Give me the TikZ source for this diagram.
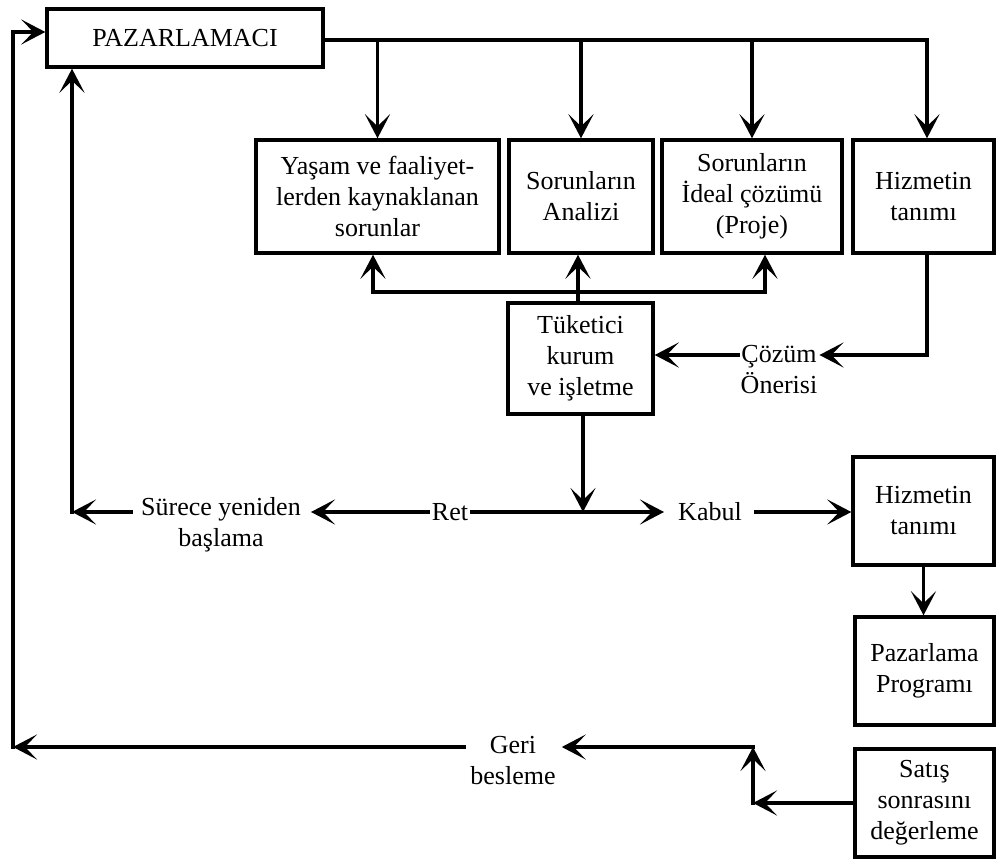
\documentclass[tikz,border=0pt]{standalone}
\usepackage{fontspec}
\setmainfont{Liberation Serif}
\usetikzlibrary{arrows.meta}
\tikzset{
  txt/.style={font=\fontsize{26}{31}\selectfont},
  flowbox/.style={txt, draw, line width=3.4pt, align=center, inner sep=0pt},
  flowlbl/.style={txt, align=center, inner ysep=2pt},
  cline/.style={line width=3.2pt, line cap=rect, line join=miter},
  carrow/.style={line width=3.2pt, line cap=rect, line join=miter,
    -{Stealth[length=24pt,width=25pt,inset=12pt]}}
}
\begin{document}
\begin{tikzpicture}[x=1pt,y=-1pt]
\useasboundingbox (0,0) rectangle (996,861);

% boxes
\node[flowbox, minimum width=276pt, minimum height=58pt] (paz) at (185,38) {PAZARLAMACI};
\node[flowbox, minimum width=243pt, minimum height=113pt] (b1) at (377.5,196.5) {Yaşam ve faaliyet-\\lerden kaynaklanan\\sorunlar};
\node[flowbox, minimum width=144pt, minimum height=113pt] (b2) at (581,196.5) {Sorunların\\Analizi};
\node[flowbox, minimum width=180pt, minimum height=113pt] (b3) at (752,196.5) {Sorunların\\İdeal çözümü\\(Proje)};
\node[flowbox, minimum width=141pt, minimum height=113pt] (b4) at (923.5,196.5) {Hizmetin\\tanımı};
\node[flowbox, minimum width=145pt, minimum height=111pt] (tk) at (580.5,358.5) {Tüketici\\kurum\\ve işletme};
\node[flowbox, minimum width=141pt, minimum height=108pt] (h2) at (923.5,511) {Hizmetin\\tanımı};
\node[flowbox, minimum width=139pt, minimum height=108pt] (pp) at (924.5,671) {Pazarlama\\Programı};
\node[flowbox, minimum width=139pt, minimum height=108pt] (sd) at (924.5,803) {Satış\\sonrasını\\değerleme};

% labels
\node[flowlbl, inner xsep=2pt] (coz) at (779,370) {Çözüm\\Önerisi};
\node[flowlbl, inner xsep=3pt] (ret) at (450,512) {Ret};
\node[flowlbl, inner xsep=10pt] (sur) at (221,525) {Sürece yeniden\\başlama};
\node[flowlbl, inner xsep=14pt] (kab) at (710,512) {Kabul};
\node[flowlbl, inner xsep=6pt] (geri) at (513,761) {Geri\\besleme};

% coordinates
\coordinate (t4) at (927,40);
\coordinate (fb1) at (373,292);
\coordinate (fb2) at (578,292);
\coordinate (fb3) at (765,292);
\coordinate (c1) at (927,355);
\coordinate (j) at (583,512);
\coordinate (sl) at (72,512);
\coordinate (gl) at (13,747);
\coordinate (gt) at (13,32);
\coordinate (sc) at (753,803);
\coordinate (sg) at (753,747);

% top distribution
\draw[carrow] (paz.east |- t4) -- (t4) -- (b4.north -| t4);
\draw[carrow] (b1.north |- t4) -- (b1.north);
\draw[carrow] (b2.north |- t4) -- (b2.north);
\draw[carrow] (b3.north |- t4) -- (b3.north);

% feedback to row 1
\draw[cline] (fb1) -- (fb3);
\draw[carrow] (fb1) -- (b1.south -| fb1);
\draw[carrow] (fb2) -- (b2.south -| fb2);
\draw[carrow] (fb3) -- (b3.south -| fb3);
\draw[cline] (tk.north -| fb2) -- (fb2);

% solution proposal
\draw[carrow] (b4.south -| c1) -- (c1) -- (coz.east |- c1);
\draw[carrow] (coz.west |- c1) -- (tk.east |- c1);

% decision row
\draw[carrow] (tk.south -| j) -- (j);
\draw[cline] (j) -- (ret.east);
\draw[carrow] (ret.west) -- (sur.east |- ret.west);
\draw[carrow] (sur.west |- sl) -- (sl);
\draw[carrow] (sl) -- (paz.south -| sl);
\draw[carrow] (j) -- (kab.west);
\draw[carrow] (kab.east) -- (h2.west |- kab.east);

% right column
\draw[carrow] (h2.south) -- (h2.south |- pp.north);
\draw[carrow] (sd.west |- sc) -- (sc);
\draw[carrow] (sc) -- (sg);
\draw[carrow] (sg) -- (geri.east |- sg);
\draw[carrow] (geri.west |- gl) -- (gl);
\draw[carrow] (gl) -- (gt) -- (paz.west |- gt);
\end{tikzpicture}
\end{document}
